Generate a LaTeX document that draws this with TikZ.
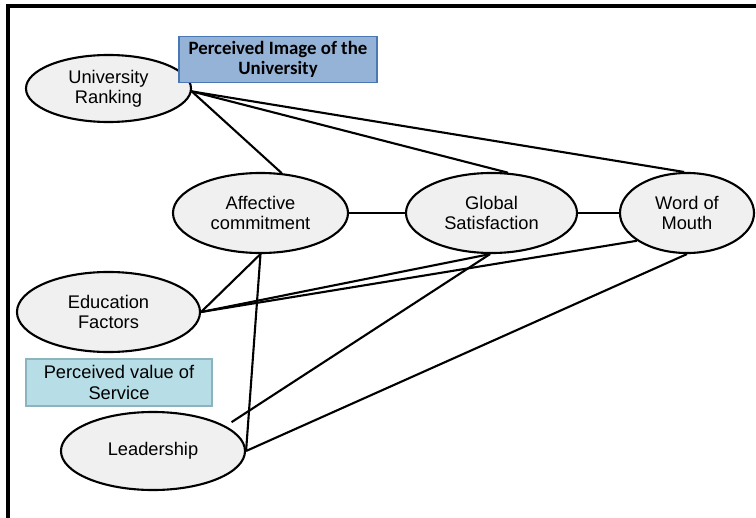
\documentclass[tikz,border=0pt]{standalone}
\usepackage{fontspec}
\setmainfont{Liberation Sans}
\newfontfamily\calfont{Carlito}
\usetikzlibrary{shapes.geometric}
\definecolor{ovalgray}{RGB}{240,240,240}
\definecolor{imgfill}{RGB}{149,179,215}
\definecolor{imgline}{RGB}{74,120,180}
\definecolor{valfill}{RGB}{183,222,230}
\definecolor{valline}{RGB}{140,180,190}
\begin{document}
\begin{tikzpicture}[x=0.025cm, y=-0.025cm,
    construct/.style={ellipse, draw, line width=1.5pt, fill=ovalgray, inner sep=0pt,
                      align=center, font=\fontsize{13}{14.5}\selectfont},
    link/.style={line width=1.5pt},
    imgbox/.style={draw=imgline, line width=1.2pt, fill=imgfill, align=center,
                   minimum width=4.95cm, minimum height=1.125cm,
                   font=\calfont\bfseries\fontsize{13.4}{14.5}\selectfont},
    valbox/.style={draw=valline, line width=1pt, fill=valfill, align=center,
                   minimum width=4.65cm, minimum height=1.175cm,
                   font=\fontsize{13}{14.5}\selectfont}]
    \useasboundingbox (0,0) rectangle (756,518);
    \draw[line width=3pt]   (8,518) -- (8,6) -- (756,6);

    \node[construct, minimum width=4.125cm, minimum height=1.675cm] (ur) at (108.5,88.5) {University\\Ranking};
    \node[construct, minimum width=4.375cm, minimum height=2cm]     (ac) at (260.5,213)  {Affective\\commitment};
    \node[construct, minimum width=4.275cm, minimum height=2cm]     (gs) at (491.5,213)  {Global\\Satisfaction};
    \node[construct, minimum width=3.35cm,  minimum height=2cm]     (wm) at (687,213)    {Word of\\Mouth};
    \node[construct, minimum width=4.575cm, minimum height=2cm]     (ef) at (108.5,312)  {Education\\Factors};
    \node[construct, minimum width=4.6cm,   minimum height=1.95cm]  (ld) at (153,451)    {Leadership};

    \node[imgbox] (img) at (278,59.5)  {Perceived Image of the\\University};
    \node[valbox] (val) at (119,382.5) {Perceived value of\\Service};

    \draw[link]     (ur.-2) -- (wm.94);
    \draw[link]     (ur.-2) -- (gs.68);
    \draw[link]     (ur.-2) -- (ac.62);
    \draw[link]     (ac) -- (gs);
    \draw[link]     (gs) -- (wm);
    \draw[link]     (ef.east) -- (ac.south);
    \draw[link]     (ef.east) -- (gs.-92);
    \draw[link]     (ef.east) -- (wm.209);
    \draw[link]     (ld.east) -- (ac.south);
    \draw[link, shorten <=5pt] (ld.19) -- (gs.-92);
    \draw[link]     (ld.east) -- (wm.south);
\end{tikzpicture}
\end{document}
